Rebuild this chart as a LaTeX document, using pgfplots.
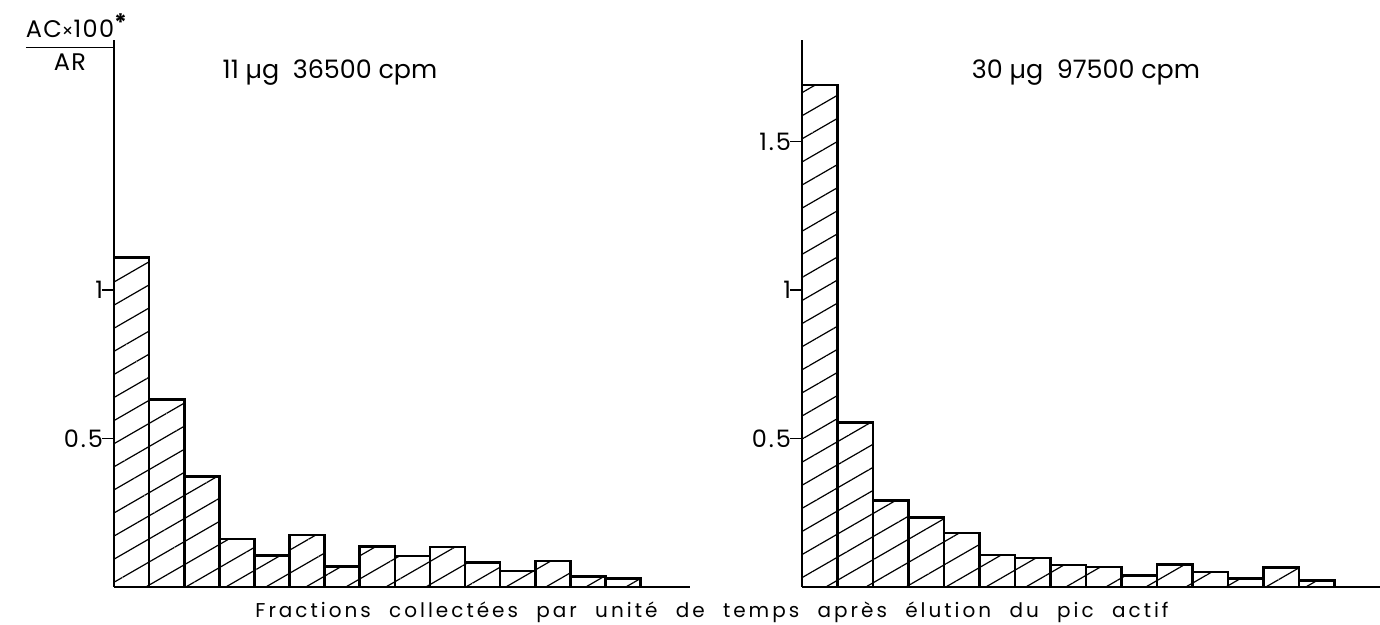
\documentclass[border=0pt]{standalone}
\usepackage{amsmath}
\usepackage{fontspec}
\setmainfont{Poppins}
\usepackage{pgfplots}
\pgfplotsset{compat=1.18}
\usetikzlibrary{patterns.meta}

\pgfplotstableread{
x y
0 1.109
1 0.631
2 0.372
3 0.161
4 0.107
5 0.175
6 0.070
7 0.137
8 0.105
9 0.135
10 0.082
11 0.054
12 0.087
13 0.036
14 0.028
}\leftdata

\pgfplotstableread{
x y
0 1.690
1 0.554
2 0.292
3 0.235
4 0.182
5 0.108
6 0.098
7 0.074
8 0.068
9 0.038
10 0.075
11 0.051
12 0.029
13 0.066
14 0.021
}\rightdata

\pgfplotsset{
  panel/.style={
    scale only axis,
    height=273.5pt,
    anchor=south west,
    axis x line*=bottom,
    axis y line*=left,
    ymin=0, ymax=1.842,
    xtick=\empty,
    tick align=outside,
    major tick length=6pt,
    /pgf/number format/assume math mode=true,
    /pgf/number format/fixed,
    yticklabel style={font=\fontsize{12}{12}\selectfont\addfontfeature{LetterSpace=8}, xshift=4pt},
    ytick style={line width=0.9pt, black},
    axis line style={line width=0.9pt},
    ybar, bar width=1, bar shift=0pt,
  },
  hatchbar/.style={
    draw=black, line width=1.3pt,
    pattern={Lines[angle=30,distance=10pt,line width=0.6pt]},
  },
}

\newcommand{\gap}{\ \hspace{5pt}}

\begin{document}
\begin{tikzpicture}
\useasboundingbox (0,0) rectangle (690pt,312.5pt);

% left panel
\begin{axis}[panel, at={(57pt,19pt)}, width=288pt,
  xmin=-0.5, xmax=15.91, ytick={0.5,1}]
  \addplot[hatchbar] table[x=x,y=y]{\leftdata};
\end{axis}

% right panel
\begin{axis}[panel, at={(401pt,19pt)}, width=289pt,
  xmin=-0.5, xmax=15.78, ytick={0.5,1,1.5}]
  \addplot[hatchbar] table[x=x,y=y]{\rightdata};
\end{axis}

% y label
\node[inner sep=0pt] at (35pt,291.5pt) {\fontsize{12}{13}\selectfont\addfontfeature{LetterSpace=6}
  $\dfrac{\text{AC{\small ×}100}\rlap{\raisebox{3pt}{\textbf{*}}}}{\text{AR}}$};

% panel titles
\node[inner sep=0pt] at (165pt,276pt) {\fontsize{12.7}{13}\selectfont 11 µg\ \ 36500 cpm};
\node[inner sep=0pt] at (543pt,276pt) {\fontsize{12.7}{13}\selectfont 30 µg\ \ 97500 cpm};

% x label
\node[inner sep=0pt] at (356pt,6.5pt) {\fontsize{10}{11}\selectfont\addfontfeature{LetterSpace=15}Fractions\gap collectées\gap par\gap unité\gap de\gap temps\gap après\gap élution\gap du\gap pic\gap actif};
\end{tikzpicture}
\end{document}
